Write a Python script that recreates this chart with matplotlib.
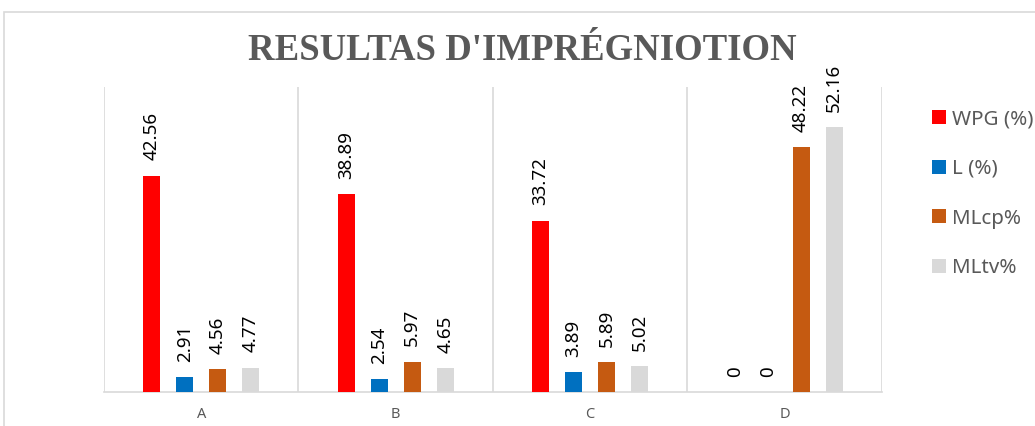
import numpy as np
import matplotlib.pyplot as plt
from matplotlib.patches import Rectangle

# chart data
categories = ['A', 'B', 'C', 'D']
series_names = ['WPG (%)', 'L (%)', 'MLcp%', 'MLtv%']
wpg = [42.56, 38.89, 33.72, 0]
l_pct = [2.91, 2.54, 3.89, 0]
mlcp = [4.56, 5.97, 5.89, 48.22]
mltv = [4.77, 4.65, 5.02, 52.16]
colors = ['#FF0000', '#0070C0', '#C55A11', '#D9D9D9']

series = [wpg, l_pct, mlcp, mltv]
grid_col = '#D9D9D9'
text_col = '#595959'

fig = plt.figure(figsize=(10.35, 4.26), dpi=100)
ax = fig.add_axes([0.1005, 0.0798, 0.852 - 0.1005, 0.7958 - 0.0798])

# outer chart frame (top and left edges visible)
fig.patches.append(Rectangle((4 / 1035, -0.1), 1.2, 1 - 12 / 426 + 0.1,
                             transform=fig.transFigure, fill=False,
                             edgecolor=grid_col, linewidth=1.2))

x = np.arange(len(categories))
width = 0.087
step = 0.17
bars = []
for i, (vals, name, c) in enumerate(zip(series, series_names, colors)):
    pos = x + (i - 1.5) * step
    b = ax.bar(pos, vals, width, color=c, label=name, zorder=3)
    bars.append(b)
    for px, v in zip(pos, vals):
        ax.annotate(f'{v:g}' if v == 0 else f'{v:.2f}', (px, v),
                    xytext=(0, 11), textcoords='offset points',
                    rotation=90, ha='center', va='bottom',
                    fontsize=13.5, family='Noto Sans', color='black')

ax.set_xlim(-0.5, 3.5)
ax.set_ylim(0, 60)
ax.vlines(np.arange(-0.5, 4.0, 1.0), 0, 60, color=grid_col, linewidth=1.2, zorder=1)
for s in ['top', 'right', 'left']:
    ax.spines[s].set_visible(False)
ax.spines['bottom'].set_color(grid_col)
ax.spines['bottom'].set_linewidth(1.2)
ax.set_yticks([])
ax.set_xticks(x)
ax.set_xticklabels(categories, fontsize=10.5, family='Noto Sans', color=text_col)
ax.tick_params(axis='x', length=0, pad=11)

fig.text(522 / 1035, 1 - 50 / 426, "RESULTAS D'IMPRÉGNIOTION",
         ha='center', va='center', fontsize=26.5, fontweight='bold',
         family='Liberation Serif', color=text_col)

leg = fig.legend(handles=bars, labels=series_names, loc='upper left',
                 bbox_to_anchor=(932 / 1035, 1 - 109 / 426), frameon=False,
                 prop={'family': 'Noto Sans', 'size': 14.8},
                 handlelength=0.68, handleheight=0.68, handletextpad=0.3,
                 labelspacing=1.45, borderaxespad=0, borderpad=0)
for t in leg.get_texts():
    t.set_color(text_col)

fig.savefig('out.png', dpi=100)
